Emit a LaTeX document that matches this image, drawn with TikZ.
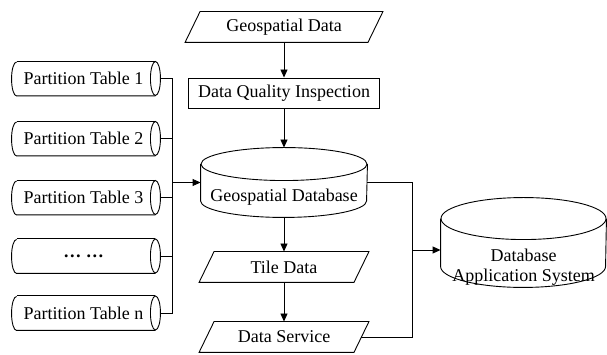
\documentclass[tikz,border=0pt]{standalone}
\usepackage{fontspec}
\setmainfont{Liberation Serif}
\usetikzlibrary{arrows.meta}

\begin{document}
\begin{tikzpicture}[x=1pt,y=1pt,
  line width=0.9pt,
  font=\fontsize{18}{20}\selectfont,
  box/.style={draw=none,inner sep=0pt,minimum height=30pt},
  shapebox/.style={draw=none,inner sep=0pt},
  arr/.style={-{Triangle[length=8pt,width=7pt]}},
  outline/.style={draw=black,line width=0.9pt}
]
\useasboundingbox (0,0) rectangle (607,355);

% ---- central chain ----
\node[box,minimum width=182pt] (gd) at (284,328) {Geospatial Data};
\node[draw,inner sep=0pt,minimum width=191pt,minimum height=30pt] (dq) at (284,262) {Data Quality Inspection};
\node[shapebox,minimum width=166pt,minimum height=69pt] (db) at (284,172.5) {};
\node (dbt) at (284,158) {Geospatial Database};
\node[box,minimum width=154pt] (td) at (284,88) {Tile Data};
\node[box,minimum width=154pt] (ds) at (284,18) {Data Service};

% parallelograms (slant 15pt)
\foreach \n in {gd,td,ds}{
  \draw[outline] ([xshift=7.5pt]\n.north west) -- ([xshift=7.5pt]\n.north east)
    -- ([xshift=-7.5pt]\n.south east) -- ([xshift=-7.5pt]\n.south west) -- cycle;
}

% vertical cylinder: database
\draw[outline] ([yshift=-16.5pt]db.north west) -- ([yshift=16.5pt]db.south west)
  arc[start angle=180,end angle=360,x radius=83pt,y radius=16.5pt]
  -- ([yshift=-16.5pt]db.north east);
\draw[outline] ([yshift=-16.5pt]db.north) ellipse[x radius=83pt,y radius=16.5pt];

% ---- application system ----
\node[shapebox,minimum width=165pt,minimum height=89pt] (app) at (523.5,112.5) {};
\node[align=center] (appt) at (523.5,88) {Database\\Application System};
\draw[outline] ([yshift=-21pt]app.north west) -- ([yshift=21pt]app.south west)
  arc[start angle=180,end angle=360,x radius=82.5pt,y radius=21pt]
  -- ([yshift=-21pt]app.north east);
\draw[outline] ([yshift=-21pt]app.north) ellipse[x radius=82.5pt,y radius=21pt];

% ---- partition tables ----
\foreach \n/\y/\t in {p1/276.5/Partition Table 1,p2/216.5/Partition Table 2,
                      p3/157.5/Partition Table 3,p4/99/\textbf{\dots{} \dots},
                      p5/42/Partition Table n}{
  \node[shapebox,minimum width=148pt,minimum height=34pt] (\n) at (86,\y) {};
  \node (\n t) at (83.5,\y) {\t};
  \draw[outline] ([xshift=5pt]\n.north west) -- ([xshift=-5pt]\n.north east);
  \draw[outline] ([xshift=-5pt]\n.east) ellipse[x radius=5pt,y radius=17pt];
  \draw[outline] ([xshift=-5pt]\n.south east) -- ([xshift=5pt]\n.south west)
    arc[start angle=270,end angle=90,x radius=5pt,y radius=17pt];
}

% ---- connectors ----
\coordinate (lb) at (172,0);
\coordinate (rb) at (412.5,0);

\draw[arr] (gd) -- (dq);
\draw[arr] (dq) -- (db.north);
\draw[arr] (db.south) -- (td);
\draw[arr] (td) -- (ds);

\draw (p1.east) -- (p1.east -| lb) -- (p5.east -| lb) -- (p5.east);
\foreach \n in {p2,p3,p4}{ \draw (\n.east) -- (\n.east -| lb); }
\draw[arr] (db.west -| lb) -- (db.west);

\draw (db.east) -- (db.east -| rb) -- (ds.east -| rb) -- (ds.east);
\draw[arr] ([yshift=-7.5pt]app.west -| rb) -- ([yshift=-7.5pt]app.west);
\end{tikzpicture}
\end{document}
